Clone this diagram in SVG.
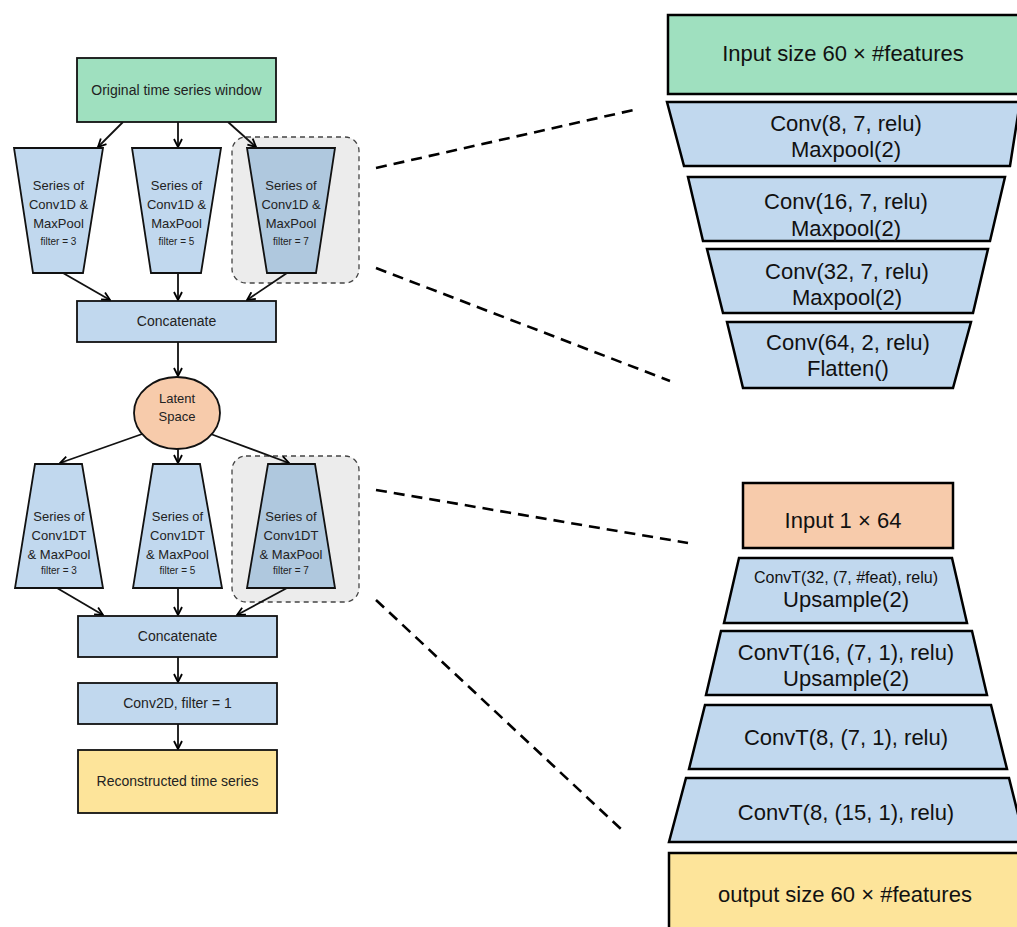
<svg xmlns="http://www.w3.org/2000/svg" width="1017" height="927" viewBox="0 0 1017 927">
<defs>
<marker id="ah" viewBox="0 0 10 10" refX="9" refY="5" markerWidth="10" markerHeight="10" markerUnits="userSpaceOnUse" orient="auto">
<path d="M1,1 L9,5 L1,9" fill="none" stroke="#000" stroke-width="1.8"/>
</marker>
<style>
.l{font-family:"Liberation Sans",Arial,sans-serif;font-size:13px;fill:#222;text-anchor:middle}
.s{font-size:10px}
.big{font-size:14px}
.r{font-family:"Liberation Sans",Arial,sans-serif;font-size:22px;fill:#111;text-anchor:middle}
.n{stroke:#111;stroke-width:1.8}
.R{stroke:#000;stroke-width:2.5}
.blue{fill:#c1d8ee}
.dblue{fill:#afc8de}
.green{fill:#9fe0bf}
.orange{fill:#f7cbab}
.yellow{fill:#fde49a}
.grp{fill:#ececec;stroke:#444;stroke-width:1.3;stroke-dasharray:5 4}
.a{stroke:#111;stroke-width:1.8;fill:none;marker-end:url(#ah)}
.d{stroke:#000;stroke-width:2.6;fill:none;stroke-dasharray:11 7}
</style>
</defs>
<rect width="1017" height="927" fill="#fff"/>

<g id="groups">
<rect class="grp" x="232" y="137" width="127" height="146" rx="14"/>
<rect class="grp" x="232" y="456" width="127" height="146" rx="14"/>
</g>

<g id="connectors">
<line class="a" x1="123" y1="122" x2="98" y2="147"/>
<line class="a" x1="178" y1="122" x2="178" y2="147"/>
<line class="a" x1="228" y1="122" x2="256" y2="147"/>
<line class="a" x1="63" y1="273" x2="110" y2="300"/>
<line class="a" x1="178" y1="273" x2="178" y2="300"/>
<line class="a" x1="287" y1="273" x2="247" y2="300"/>
<line class="a" x1="178" y1="342" x2="178" y2="376"/>
<line class="a" x1="145" y1="433" x2="60" y2="463"/>
<line class="a" x1="178" y1="449" x2="178" y2="463"/>
<line class="a" x1="208" y1="433" x2="289" y2="463"/>
<line class="a" x1="57" y1="588" x2="103" y2="615"/>
<line class="a" x1="178" y1="588" x2="178" y2="615"/>
<line class="a" x1="287" y1="588" x2="237" y2="615"/>
<line class="a" x1="178" y1="657" x2="178" y2="682"/>
<line class="a" x1="178" y1="724" x2="178" y2="749"/>
<line class="d" x1="376" y1="168" x2="638" y2="109"/>
<line class="d" x1="376" y1="268" x2="670" y2="381"/>
<line class="d" x1="376" y1="490" x2="688" y2="543"/>
<line class="d" x1="376" y1="600" x2="622" y2="830"/>
</g>

<g id="orig">
<rect class="n green" x="77" y="58" width="199" height="64"/>
<text class="l big" x="176.5" y="95">Original time series window</text>
</g>

<g id="enc3">
<polygon class="n blue" points="14,148 103,148 83,273 33,273"/>
<text class="l" x="58.5" y="190">Series of</text>
<text class="l" x="58.5" y="209">Conv1D &amp;</text>
<text class="l" x="58.5" y="228">MaxPool</text>
<text class="l s" x="58.5" y="245">filter = 3</text>
</g>
<g id="enc5">
<polygon class="n blue" points="132,148 221,148 201,273 151,273"/>
<text class="l" x="176.5" y="190">Series of</text>
<text class="l" x="176.5" y="209">Conv1D &amp;</text>
<text class="l" x="176.5" y="228">MaxPool</text>
<text class="l s" x="176.5" y="245">filter = 5</text>
</g>
<g id="enc7">
<polygon class="n dblue" points="247,148 335,148 316,273 267,273"/>
<text class="l" x="291" y="190">Series of</text>
<text class="l" x="291" y="209">Conv1D &amp;</text>
<text class="l" x="291" y="228">MaxPool</text>
<text class="l s" x="291" y="245">filter = 7</text>
</g>

<g id="concat1">
<rect class="n blue" x="77" y="301" width="199" height="41"/>
<text class="l big" x="176.5" y="326">Concatenate</text>
</g>

<g id="latent">
<ellipse class="n orange" cx="177" cy="413" rx="43" ry="36"/>
<text class="l" x="177" y="403">Latent</text>
<text class="l" x="177" y="421">Space</text>
</g>

<g id="dec3">
<polygon class="n blue" points="35,464 82,464 103,588 15,588"/>
<text class="l" x="59" y="521">Series of</text>
<text class="l" x="59" y="540">Conv1DT</text>
<text class="l" x="59" y="559">&amp; MaxPool</text>
<text class="l s" x="59" y="574">filter = 3</text>
</g>
<g id="dec5">
<polygon class="n blue" points="153,464 200,464 222,588 133,588"/>
<text class="l" x="177.5" y="521">Series of</text>
<text class="l" x="177.5" y="540">Conv1DT</text>
<text class="l" x="177.5" y="559">&amp; MaxPool</text>
<text class="l s" x="177.5" y="574">filter = 5</text>
</g>
<g id="dec7">
<polygon class="n dblue" points="268,464 315,464 335,588 247,588"/>
<text class="l" x="291" y="521">Series of</text>
<text class="l" x="291" y="540">Conv1DT</text>
<text class="l" x="291" y="559">&amp; MaxPool</text>
<text class="l s" x="291" y="574">filter = 7</text>
</g>

<g id="concat2">
<rect class="n blue" x="78" y="616" width="199" height="41"/>
<text class="l big" x="177.5" y="641">Concatenate</text>
</g>
<g id="conv2d">
<rect class="n blue" x="78" y="683" width="199" height="41"/>
<text class="l big" x="177.5" y="708">Conv2D, filter = 1</text>
</g>
<g id="recon">
<rect class="n yellow" x="78" y="750" width="199" height="63"/>
<text class="l big" x="177.5" y="786">Reconstructed time series</text>
</g>

<g id="enc-input">
<rect class="R green" x="668" y="15" width="360" height="79"/>
<text class="r" x="843" y="61">Input size 60 × #features</text>
</g>
<g id="enc-l1">
<polygon class="R blue" points="667,102 1020,102 1010,166 684,166"/>
<text class="r" x="846" y="131">Conv(8, 7, relu)</text>
<text class="r" x="846" y="157">Maxpool(2)</text>
</g>
<g id="enc-l2">
<polygon class="R blue" points="688,177 1005,177 990,241 703,241"/>
<text class="r" x="846" y="209">Conv(16, 7, relu)</text>
<text class="r" x="846" y="236">Maxpool(2)</text>
</g>
<g id="enc-l3">
<polygon class="R blue" points="707,249 988,249 973,313 723,313"/>
<text class="r" x="847" y="279">Conv(32, 7, relu)</text>
<text class="r" x="847" y="305">Maxpool(2)</text>
</g>
<g id="enc-l4">
<polygon class="R blue" points="727,322 971,322 953,388 743,388"/>
<text class="r" x="848" y="350">Conv(64, 2, relu)</text>
<text class="r" x="848" y="376">Flatten()</text>
</g>

<g id="dec-input">
<rect class="R orange" x="743" y="483" width="210" height="65"/>
<text class="r" x="843" y="528">Input 1 × 64</text>
</g>
<g id="dec-l1">
<polygon class="R blue" points="739,558 952,558 967,623 724,623"/>
<text class="r" x="846" y="583" style="font-size:16px">ConvT(32, (7, #feat), relu)</text>
<text class="r" x="846" y="607">Upsample(2)</text>
</g>
<g id="dec-l2">
<polygon class="R blue" points="721,631 972,631 987,695 706,695"/>
<text class="r" x="846" y="660">ConvT(16, (7, 1), relu)</text>
<text class="r" x="846" y="686">Upsample(2)</text>
</g>
<g id="dec-l3">
<polygon class="R blue" points="705,705 991,705 1007,769 689,769"/>
<text class="r" x="846" y="745">ConvT(8, (7, 1), relu)</text>
</g>
<g id="dec-l4">
<polygon class="R blue" points="686,778 1009,778 1025,842 669,842"/>
<text class="r" x="846" y="820">ConvT(8, (15, 1), relu)</text>
</g>
<g id="dec-output">
<rect class="R yellow" x="669" y="853" width="360" height="90"/>
<text class="r" x="845" y="902">output size 60 × #features</text>
</g>
</svg>
